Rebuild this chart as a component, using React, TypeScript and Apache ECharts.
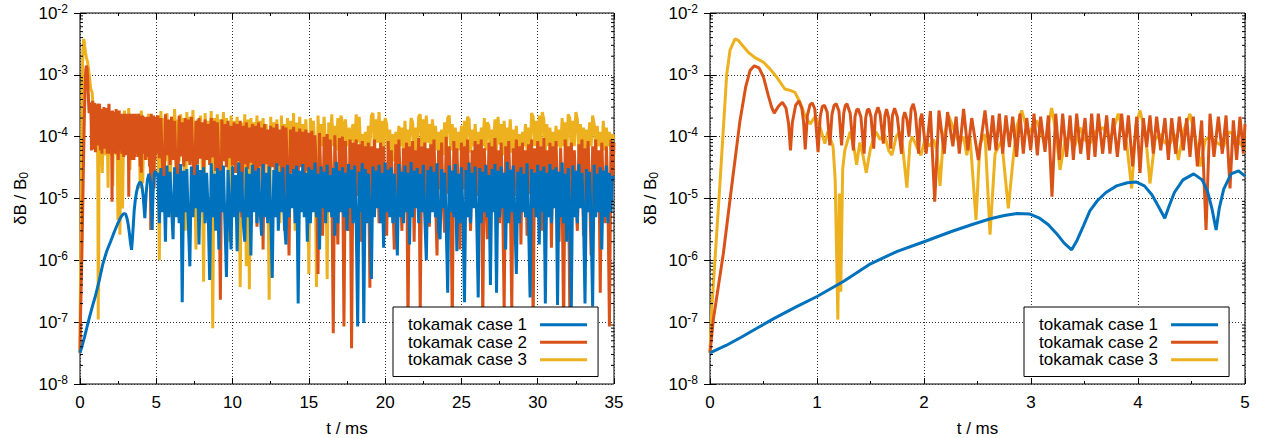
import React, { useEffect, useRef } from 'react';
import * as echarts from 'echarts';

const SERIES_NAMES = ['tokamak case 1', 'tokamak case 2', 'tokamak case 3'];
const SERIES_COLORS = ['#0072bd', '#d95319', '#edb120'];
const LEFT_X_MAX = 35;
const LEFT_X_INTERVAL = 5;
const RIGHT_X_MAX = 5;
const RIGHT_X_INTERVAL = 1;
const Y_MIN = 1e-8;
const Y_MAX = 1e-2;

// 0 - 5 ms, [t (ms), dB/B0]
const case1Early: number[][] = [
  [0, 3.2e-8], [0.15, 4.2e-8], [0.3, 5.8e-8], [0.45, 8.2e-8], [0.6, 1.15e-7], [0.8, 1.75e-7],
  [1.0, 2.6e-7], [1.25, 4.6e-7], [1.5, 8.8e-7], [1.75, 1.4e-6], [2.0, 2.0e-6], [2.25, 2.9e-6],
  [2.45, 3.8e-6], [2.62, 4.7e-6], [2.75, 5.3e-6], [2.87, 5.7e-6], [2.99, 5.6e-6], [3.08, 4.8e-6],
  [3.16, 3.8e-6], [3.24, 2.7e-6], [3.31, 1.9e-6], [3.38, 1.48e-6], [3.43, 2.1e-6], [3.49, 3.6e-6],
  [3.55, 6.3e-6], [3.62, 9.2e-6], [3.7, 1.25e-5], [3.8, 1.6e-5], [3.9, 1.8e-5], [3.98, 1.85e-5],
  [4.06, 1.6e-5], [4.13, 1.15e-5], [4.19, 7.5e-6], [4.25, 4.8e-6], [4.29, 7.5e-6], [4.34, 1.25e-5],
  [4.42, 2.0e-5], [4.52, 2.5e-5], [4.6, 2.0e-5], [4.65, 1.3e-5], [4.69, 7e-6], [4.73, 3.1e-6],
  [4.76, 7e-6], [4.8, 1.4e-5], [4.87, 2.5e-5], [4.94, 2.8e-5], [5.0, 2.3e-5],
];

const case2Early: number[][] = [
  [0, 3.2e-8], [0.031, 1.1e-7], [0.125, 1.3e-6], [0.202, 1.55e-5], [0.28, 1.8e-4], [0.333, 6.3e-4],
  [0.374, 1.17e-3], [0.414, 1.4e-3], [0.458, 1.3e-3], [0.5, 9.2e-4], [0.545, 4.6e-4], [0.576, 3e-4],
  [0.6, 2.4e-4], [0.64, 3.1e-4], [0.676, 3.6e-4], [0.71, 2.9e-4], [0.735, 1.6e-4], [0.752, 6e-5],
  [0.77, 1.7e-4], [0.8, 3.2e-4], [0.83, 3.8e-4], [0.858, 2.9e-4], [0.875, 1.7e-4], [0.89, 6.2e-5],
  [0.91, 2.2e-4], [0.935, 3.3e-4], [0.956, 3.5e-4], [0.98, 2.8e-4], [1.01, 5.6e-5],
  [1.03, 2.1e-4], [1.05, 3.1e-4], [1.07, 3.2e-4], [1.095, 2.5e-4], [1.12, 7.2e-5],
  [1.14, 2.3e-4], [1.16, 3.2e-4], [1.18, 3.4e-4], [1.205, 2.6e-4], [1.23, 7.2e-5],
  [1.25, 2.4e-4], [1.265, 3.2e-4], [1.28, 3.4e-4], [1.31, 2.4e-4], [1.34, 6e-5],
  [1.355, 2.1e-4], [1.37, 2.7e-4], [1.385, 2.8e-4], [1.41, 2.1e-4], [1.44, 5.3e-5],
  [1.455, 2e-4], [1.47, 2.7e-4], [1.485, 2.8e-4], [1.505, 2.1e-4], [1.53, 6.4e-5],
  [1.545, 2.2e-4], [1.57, 3e-4], [1.59, 2.3e-4], [1.62, 7.7e-5],
  [1.635, 2.2e-4], [1.65, 2.8e-4], [1.67, 2e-4], [1.69, 6.4e-5],
  [1.705, 2.2e-4], [1.725, 2.9e-4], [1.75, 2.1e-4], [1.79, 5.3e-5],
  [1.805, 2e-4], [1.82, 2.5e-4], [1.84, 1.9e-4], [1.86, 1e-4],
  [1.88, 2.8e-4], [1.9, 3.4e-4], [1.92, 2.4e-4], [1.95, 5.3e-5],
  [1.965, 1.9e-4], [1.98, 2.35e-4], [2.02, 5.3e-5], [2.06, 2.6e-4], [2.1, 8.9e-6],
  [2.14, 2.65e-4], [2.19, 5.3e-5], [2.22, 2.5e-4], [2.27, 7e-5], [2.3, 2.1e-4], [2.33, 5.3e-5],
  [2.37, 2.8e-4], [2.41, 6e-5],
  [2.446, 2e-4], [2.508, 4.2e-5], [2.57, 2.65e-4], [2.611, 6e-5], [2.642, 2.2e-4], [2.673, 6e-5],
  [2.704, 2.35e-4], [2.735, 5.3e-5], [2.766, 2.2e-4], [2.798, 6.8e-5], [2.829, 2.1e-4], [2.866, 4.7e-5],
  [2.897, 2.35e-4], [2.928, 5.3e-5], [2.96, 2e-4], [2.997, 6e-5], [3.028, 2.35e-4], [3.059, 5e-5],
  [3.09, 2.1e-4], [3.131, 5.7e-5], [3.162, 2.2e-4], [3.196, 1.07e-5], [3.231, 2.35e-4], [3.265, 4.2e-5],
  [3.296, 2.35e-4], [3.333, 4.7e-5], [3.365, 2.2e-4], [3.396, 4.2e-5], [3.427, 2.35e-4], [3.464, 5.3e-5],
  [3.505, 2e-4], [3.536, 4.2e-5], [3.567, 2.35e-4], [3.598, 4.7e-5], [3.629, 2.35e-4], [3.67, 5.3e-5],
  [3.707, 2.2e-4], [3.738, 5.3e-5], [3.77, 2e-4], [3.807, 4.7e-5], [3.847, 2.35e-4], [3.879, 6e-5],
  [3.91, 2.2e-4], [3.95, 3.3e-5], [3.988, 2.1e-4], [4.019, 2.6e-5], [4.05, 2e-4], [4.081, 6.8e-5],
  [4.112, 2.2e-4], [4.143, 5.3e-5], [4.174, 2.1e-4], [4.212, 6e-5], [4.252, 2e-4], [4.284, 4.2e-5],
  [4.315, 2e-4], [4.352, 5.3e-5], [4.386, 2.1e-4], [4.424, 6e-5], [4.455, 2e-4], [4.486, 4.7e-5],
  [4.517, 2.1e-4], [4.555, 3.3e-5], [4.595, 1.83e-4], [4.636, 3.1e-6], [4.673, 2.35e-4], [4.71, 4.7e-5],
  [4.751, 2.1e-4], [4.788, 5.3e-5], [4.823, 2.2e-4], [4.86, 1.45e-5], [4.891, 1.83e-4], [4.922, 4.2e-5],
  [4.953, 2.1e-4], [4.985, 5.3e-5], [5.0, 1.6e-4],
];

const case3Early: number[][] = [
  [0, 3.2e-8], [0.016, 1.6e-7], [0.087, 1.2e-5], [0.156, 1e-3], [0.187, 2.5e-3], [0.234, 3.8e-3],
  [0.265, 3.6e-3], [0.31, 2.9e-3], [0.36, 2.3e-3], [0.42, 1.9e-3], [0.5, 1.6e-3], [0.56, 1.25e-3],
  [0.623, 9.2e-4], [0.7, 5.9e-4], [0.748, 5.6e-4], [0.794, 5.2e-4], [0.841, 3.6e-4], [0.888, 2.2e-4],
  [0.935, 1.6e-4], [0.981, 2.1e-4], [1.03, 1.4e-4], [1.074, 7.7e-5], [1.1, 1.2e-4], [1.15, 7e-5],
  [1.17, 2e-5], [1.195, 1.1e-7], [1.208, 1.2e-5], [1.222, 3.1e-7], [1.24, 3e-5], [1.26, 6e-5],
  [1.31, 1.2e-4], [1.35, 6e-5], [1.37, 3.5e-5], [1.4, 8e-5], [1.43, 5e-5], [1.46, 2.6e-5],
  [1.5, 6.5e-5], [1.55, 1.2e-4], [1.59, 9e-5], [1.63, 1.1e-4], [1.67, 6e-5], [1.7, 5e-5],
  [1.74, 1e-4], [1.77, 1.2e-4], [1.8, 7e-5], [1.84, 1.5e-5], [1.87, 8e-5], [1.89, 1e-4],
  [1.93, 7e-5], [1.97, 5e-5], [2.01, 9e-5], [2.05, 7e-5], [2.09, 9e-5], [2.12, 6e-5],
  [2.15, 1.6e-5], [2.18, 9e-5], [2.23, 2.2e-4], [2.28, 1.3e-4], [2.33, 7.7e-5], [2.37, 1e-4],
  [2.4, 5e-5], [2.43, 1e-4], [2.486, 4.5e-6], [2.523, 7.7e-5], [2.57, 1.1e-4], [2.617, 2.6e-6],
  [2.664, 5.3e-5], [2.726, 8.7e-5], [2.788, 6.9e-6], [2.835, 4.7e-5], [2.87, 1.5e-4], [2.913, 2.65e-4],
  [2.975, 1.1e-4], [3.02, 1.5e-4], [3.053, 1.83e-4], [3.09, 1.2e-4], [3.131, 7.7e-5], [3.193, 2.9e-4],
  [3.23, 1.3e-4], [3.271, 2.9e-5], [3.32, 9e-5], [3.365, 1e-4], [3.41, 7e-5], [3.458, 1.4e-4],
  [3.5, 9e-5], [3.551, 7.7e-5], [3.6, 1.2e-4], [3.676, 1.4e-4], [3.74, 9e-5], [3.816, 2.35e-4],
  [3.86, 1.2e-4], [3.894, 7.7e-5], [3.941, 1.45e-5], [3.98, 1.5e-4], [4.019, 2.65e-4], [4.07, 1.1e-4],
  [4.112, 1.75e-5], [4.16, 9e-5], [4.206, 1.1e-4], [4.25, 8e-5], [4.299, 7.7e-5], [4.34, 1.1e-4],
  [4.377, 4.2e-5], [4.43, 1.3e-4], [4.486, 2.35e-4], [4.53, 1.1e-4], [4.58, 3.3e-5], [4.63, 9e-5],
  [4.673, 1e-4], [4.74, 8e-5], [4.798, 6.8e-5], [4.85, 1.2e-4], [4.891, 1.1e-4], [4.95, 8e-5],
  [5.0, 6e-5],
];

// 5 - 35 ms, sampled every 0.1 ms (first sample at 5.1 ms)
const TAIL_START = 5;
const TAIL_STEP = 0.1;

const case1Tail: number[] = [
  2.6e-5, 4e-6, 3.1e-5, 6e-6, 2.3e-5, 2e-6, 3.4e-5, 5e-6, 2.7e-5, 7e-6,
  2.2e-6, 3.2e-5, 5e-6, 2.5e-5, 4e-6, 3.6e-5, 2.1e-7, 2.8e-5, 6e-6, 3e-5,
  4e-6, 8e-7, 3.3e-5, 5e-6, 2.4e-5, 7e-6, 3.5e-5, 1.8e-6, 2.9e-5, 6e-6,
  3.2e-5, 4e-6, 2.6e-5, 6e-6, 4.8e-7, 3.7e-5, 5e-6, 2.5e-5, 3e-6, 3.1e-5,
  1.5e-6, 2.8e-5, 6e-6, 3.4e-5, 4e-6, 5.4e-7, 2.9e-5, 7e-6, 1.5e-6, 3.3e-5,
  5e-6, 2.4e-5, 1.4e-6, 3.8e-5, 6e-6, 2.7e-5, 4e-6, 2e-6, 3.2e-5, 5e-6,
  2.5e-5, 1.2e-6, 3.5e-5, 6e-6, 2.8e-5, 4e-6, 3.1e-5, 7e-6, 2.5e-6, 3.6e-5,
  5e-6, 2.6e-5, 4e-6, 3.3e-5, 6e-6, 5.2e-7, 2.9e-5, 5e-6, 3.7e-5, 3e-6,
  2.7e-5, 6e-6, 3.2e-5, 4e-6, 1.8e-6, 3.5e-5, 5e-6, 2.5e-5, 7e-6, 3e-5,
  4e-6, 3.4e-5, 2e-7, 2.8e-5, 6e-6, 3.6e-5, 5e-6, 2.6e-5, 2e-6, 3.2e-5,
  4e-6, 2.9e-5, 6e-6, 3.8e-5, 5e-6, 2.5e-5, 1.5e-6, 3.3e-5, 7e-6, 2.7e-5,
  4e-6, 3.5e-5, 6e-6, 2.4e-5, 5e-6, 3.1e-5, 2.5e-6, 3.9e-5, 4e-6, 2.8e-5,
  6e-6, 3.2e-5, 5e-6, 2.6e-5, 3e-6, 3.6e-5, 7e-6, 2.9e-5, 4e-6, 3.4e-5,
  5e-6, 8.5e-8, 2.7e-5, 6e-6, 3.7e-5, 9.7e-8, 3e-5, 4e-6, 2.5e-5, 6e-6,
  5e-7, 3.3e-5, 5e-6, 2.8e-5, 7e-6, 3.5e-5, 4e-6, 2.6e-5, 1.6e-6, 3.8e-5,
  6e-6, 2.9e-5, 5e-6, 3.2e-5, 4e-6, 2.5e-5, 7e-6, 1.2e-6, 3.6e-5, 5e-6,
  2.7e-5, 4e-6, 3.4e-5, 6e-6, 2.6e-5, 1.8e-6, 3.9e-5, 5e-6, 2.8e-5, 7e-6,
  3.1e-5, 4e-6, 2.5e-5, 6e-6, 3.5e-5, 5e-6, 1e-6, 2.9e-5, 4e-6, 3.3e-5,
  6e-6, 2.7e-5, 5e-6, 3.7e-5, 3e-6, 2.2e-6, 3e-5, 7e-6, 2.6e-5, 4e-6,
  3e-7, 3.4e-5, 6e-6, 2.8e-5, 5e-6, 3.6e-5, 1.4e-6, 2.5e-5, 4e-6, 3.2e-5,
  6e-6, 2.1e-7, 2.9e-5, 5e-6, 3.8e-5, 4e-6, 2.6e-5, 7e-6, 3.3e-5, 5e-6,
  2.5e-7, 3.1e-5, 4e-6, 2.7e-5, 6e-6, 3.5e-5, 5e-6, 2.4e-5, 4e-7, 3e-5,
  6e-6, 3.6e-5, 3e-7, 2.8e-5, 5e-6, 3.3e-5, 7e-6, 2.6e-5, 1.5e-6, 3.9e-5,
  4e-6, 2.9e-5, 6e-6, 3.4e-5, 5e-6, 6e-7, 2.7e-5, 4e-6, 3.2e-5, 6e-6,
  2.5e-5, 5e-6, 3.7e-5, 4e-6, 2.5e-7, 3e-5, 7e-6, 2.6e-5, 5e-6, 3.5e-5,
  1.8e-6, 2.8e-5, 6e-6, 3.3e-5, 2e-7, 2.6e-5, 5e-6, 3.6e-5, 4e-6, 2.9e-5,
  7e-6, 3.2e-5, 1.9e-7, 2.7e-5, 5e-6, 3.8e-5, 4e-6, 2.5e-5, 2e-6, 3.1e-5,
  6e-6, 1.7e-7, 3.4e-5, 5e-6, 2.8e-5, 4e-6, 3.6e-5, 7e-6, 2.6e-5, 5e-6,
  2e-7, 3e-5, 6e-6, 2.7e-5, 4e-6, 1.8e-7, 3.5e-5, 5e-6, 2.5e-5, 6e-6,
  3.2e-5, 1.5e-6, 2.8e-5, 5e-6, 3.4e-5, 4e-6, 2.6e-5, 6e-6, 2.3e-5, 2.0e-5,
];

const case2Tail: number[] = [
  2.2e-4, 4.5e-5, 2.0e-4, 3.8e-5, 7.5e-6, 2.3e-4, 5e-5, 1.9e-4, 3.5e-5, 2.1e-4,
  4.2e-5, 1.8e-4, 3e-5, 1e-5, 2.2e-4, 4.8e-5, 1.7e-4, 3.3e-5, 2.0e-4, 4e-5,
  1.9e-4, 3.5e-5, 2.1e-4, 4.5e-5, 8e-6, 1.8e-4, 3.6e-5, 2.0e-4, 4.4e-5, 1.7e-4,
  3e-5, 1.9e-4, 4.2e-5, 1.6e-4, 3.5e-5, 2.0e-4, 4.6e-5, 1.8e-4, 2.8e-5, 1.7e-4,
  3.8e-5, 2.3e-7, 1.9e-4, 4e-5, 1.6e-4, 3.2e-5, 1.8e-4, 4.5e-5, 1.5e-4, 3.4e-5,
  1.7e-4, 2.6e-5, 1.6e-4, 4e-5, 1.8e-4, 5e-6, 1.5e-4, 3.6e-5, 1.7e-4, 3e-5,
  1.4e-4, 3.8e-5, 1.6e-4, 2.5e-5, 1.5e-4, 3.5e-6, 1.7e-4, 3.3e-5, 1.4e-4, 1.5e-6,
  1.6e-4, 3.6e-5, 1.3e-4, 2.8e-5, 1.5e-4, 3.2e-5, 1.4e-4, 2.5e-5, 1.6e-4, 3.4e-5,
  1.3e-4, 2.7e-5, 1.5e-4, 3e-6, 1.4e-4, 3.1e-5, 1.2e-6, 1.3e-4, 2.6e-5, 1.45e-4,
  3e-5, 1.2e-4, 2.4e-5, 1.35e-4, 3.2e-5, 1.2e-4, 2e-5, 1.3e-4, 2.8e-5, 1.15e-4,
  2.2e-5, 1.25e-4, 1.8e-5, 1.05e-4, 2.5e-5, 6e-7, 1.15e-4, 1.6e-5, 2.5e-6, 1.0e-4,
  2e-5, 1.1e-4, 1.4e-5, 9e-5, 2.2e-5, 6.6e-8, 1.05e-4, 1.5e-5, 1.8e-6, 9.5e-5,
  1.8e-5, 1.0e-4, 8.5e-8, 8.5e-5, 1.2e-5, 3e-6, 9e-5, 3.8e-8, 8e-5, 1.5e-5,
  9e-5, 1.1e-5, 7.5e-5, 2e-6, 8.5e-5, 1.4e-5, 7e-5, 9e-6, 8e-5, 3.6e-7,
  7e-5, 1.2e-5, 9e-5, 1.5e-5, 6.5e-5, 4e-6, 8e-5, 1.3e-5, 7e-5, 1e-5,
  2.5e-6, 8.5e-5, 1.4e-5, 6e-5, 1.1e-5, 1.5e-6, 7.5e-5, 1.2e-5, 9e-5, 1.6e-5,
  3e-6, 6.5e-5, 1.3e-5, 8e-5, 9.2e-8, 7e-5, 1.1e-5, 8.5e-5, 2e-6, 6e-5,
  1.5e-5, 9.5e-5, 1.5e-7, 7e-5, 1.2e-5, 8e-5, 1e-5, 6.5e-5, 3.5e-6, 7.5e-5,
  1.3e-5, 9e-5, 1.1e-5, 1.2e-6, 6e-5, 1.4e-5, 8e-5, 9e-6, 2.8e-6, 1.0e-4,
  1.2e-5, 7e-5, 1.5e-5, 1e-7, 8.5e-5, 1.1e-5, 6.5e-5, 1.3e-5, 1.5e-6, 8e-5,
  1.4e-5, 7e-5, 1e-5, 9e-5, 1.2e-5, 3e-6, 6e-5, 1.5e-5, 8.5e-5, 1.1e-5,
  7.5e-5, 1.3e-5, 9e-5, 1e-7, 6.5e-5, 1.2e-5, 2.2e-6, 8e-5, 1.4e-5, 7e-5,
  1e-5, 9.5e-5, 1.3e-5, 6e-5, 4e-6, 8e-5, 1.1e-5, 1.5e-7, 7e-5, 1.5e-5,
  8.5e-5, 1.2e-5, 1.5e-7, 6.5e-5, 1.1e-5, 9e-5, 1.4e-5, 7e-5, 1.8e-6, 8e-5,
  1.3e-5, 6e-5, 2.5e-6, 7.5e-5, 1.2e-5, 9e-5, 9e-8, 6.5e-5, 1.4e-5, 8.5e-5,
  1.1e-5, 7e-5, 3e-6, 9.5e-5, 1.3e-5, 6e-5, 1.2e-5, 8e-5, 1.6e-6, 7e-5,
  1.5e-5, 8.5e-5, 1.1e-5, 2e-6, 6.5e-5, 1.3e-5, 8e-8, 9e-5, 1.2e-5, 7e-5,
  1.5e-7, 8e-5, 1.4e-5, 6e-5, 1.1e-5, 3e-6, 7.5e-5, 1.3e-5, 9e-5, 2.5e-6,
  6.5e-5, 1.2e-5, 8.5e-5, 1.5e-5, 1.2e-6, 7e-5, 1.1e-5, 9e-5, 1.3e-5, 6e-5,
  3e-7, 8e-5, 1.4e-5, 4e-6, 7e-5, 1.2e-5, 8.5e-8, 9e-5, 1.5e-5, 8e-5,
];

const case3Tail: number[] = [
  2.2e-4, 1e-6, 2.6e-4, 5e-5, 2.0e-4, 4e-5, 2.4e-4, 6e-5, 5e-6, 2.1e-4,
  4.5e-5, 2.8e-4, 5.5e-5, 1.9e-4, 4e-5, 2.3e-4, 5e-5, 2.0e-4, 3e-6, 2.5e-4,
  4.8e-5, 2.1e-4, 5e-5, 2.7e-4, 4.2e-5, 1.5e-6, 1.9e-4, 5.5e-5, 2.2e-4, 4.5e-5,
  4.5e-7, 2.4e-4, 5e-5, 1.8e-4, 4e-5, 2.6e-4, 8e-8, 2.0e-4, 5e-5, 2.3e-4,
  4.5e-5, 1.9e-4, 5.5e-5, 2.5e-4, 4e-5, 2.0e-4, 5e-5, 2e-6, 2.2e-4, 4.5e-5,
  1.8e-4, 5e-5, 2.1e-4, 4e-5, 3.7e-7, 1.7e-4, 5e-5, 2.3e-4, 8e-7, 1.9e-4,
  3.4e-7, 2.0e-4, 4.5e-5, 1.7e-4, 5e-5, 2.2e-4, 5e-6, 1.8e-4, 4e-5, 2.0e-4,
  5e-5, 1.6e-4, 4.5e-5, 2.3e-7, 2.1e-4, 5e-5, 1.7e-4, 4e-5, 1.9e-4, 5.5e-5,
  4e-6, 2.2e-4, 4.5e-5, 1.6e-4, 5e-5, 2.0e-4, 4e-5, 1.8e-4, 5e-5, 2.4e-4,
  3e-6, 1.7e-4, 5e-5, 2.1e-4, 4.5e-5, 1.6e-4, 5.5e-5, 1.9e-4, 5e-5, 6e-7,
  2.0e-4, 5e-5, 1.8e-4, 6e-5, 3.7e-7, 2.2e-4, 6e-5, 1.6e-4, 7e-5, 2.1e-4,
  6e-5, 5e-7, 1.7e-4, 5.5e-5, 2.3e-4, 7e-5, 1.5e-4, 6e-5, 2.0e-4, 5e-5,
  2.2e-4, 1.7e-4, 6e-5, 1.9e-4, 7e-5, 1.4e-4, 5e-5, 1.3e-4, 1.6e-4, 6e-5,
  2.3e-4, 8e-5, 2.1e-4, 6.5e-5, 1.1e-4, 5e-5, 1.2e-4, 3e-5, 1.5e-4, 7e-5,
  2.2e-4, 2.4e-4, 6e-5, 1.9e-4, 8e-5, 2.5e-4, 7e-5, 1.8e-4, 5e-5, 2.0e-4,
  1.6e-4, 6e-5, 1.3e-4, 5.5e-5, 1.1e-4, 4e-5, 1.2e-4, 6e-5, 1.5e-4, 7e-5,
  1.4e-4, 5e-5, 1.8e-4, 6e-5, 1.3e-4, 7e-5, 2.0e-4, 1.7e-4, 5.5e-5, 1.4e-4,
  6e-5, 2.1e-4, 2.3e-4, 7e-5, 1.9e-4, 6e-5, 2.2e-4, 8e-5, 1.6e-4, 5e-5,
  1.9e-4, 7e-5, 1.5e-4, 6e-5, 1.2e-4, 4e-5, 1.3e-4, 5e-5, 1.7e-4, 6.5e-5,
  2.0e-4, 2.2e-4, 6e-5, 1.6e-4, 7e-5, 1.4e-4, 5e-5, 1.2e-4, 6e-5, 1.5e-4,
  7e-5, 1.8e-4, 6e-5, 2.1e-4, 1.9e-4, 5.5e-5, 1.3e-4, 7e-5, 1.6e-4, 6e-5,
  1.2e-4, 5e-5, 1.4e-4, 7e-5, 2.0e-4, 6e-5, 1.7e-4, 1.5e-4, 5.5e-5, 1.3e-4,
  7e-5, 1.9e-4, 6e-5, 2.1e-4, 7.5e-5, 1.6e-4, 5e-5, 1.8e-4, 6e-5, 1.4e-4,
  8e-5, 1.9e-4, 5.5e-5, 1.3e-4, 6e-5, 1.5e-4, 4e-5, 1.1e-4, 6e-5, 1.2e-4,
  7e-5, 1.6e-4, 6e-5, 1.4e-4, 5e-5, 2.4e-4, 2.1e-4, 7e-5, 1.8e-4, 6e-5,
  2.2e-4, 7e-5, 2.5e-4, 1.9e-4, 5.5e-5, 1.6e-4, 7e-5, 1.4e-4, 6e-5, 1.2e-4,
  5e-5, 1.5e-4, 7e-5, 1.3e-4, 6e-5, 2.0e-4, 7e-5, 1.7e-4, 5e-5, 2.3e-4,
  2.0e-4, 6e-5, 1.8e-4, 7e-5, 2.5e-4, 1.9e-4, 5.5e-5, 1.6e-4, 7e-5, 1.4e-4,
  6e-5, 1.3e-4, 5e-5, 1.7e-4, 7e-5, 2.2e-4, 1.6e-4, 6e-5, 1.5e-4, 7e-5,
  1.2e-4, 5e-5, 1.8e-4, 6e-5, 1.4e-4, 7e-5, 1.2e-4, 6e-5, 1.1e-4, 9e-5,
];

const EARLY = [case1Early, case2Early, case3Early];
const TAILS = [case1Tail, case2Tail, case3Tail];
const Z_ORDER = [5, 4, 3];

const FONT = '"Liberation Sans", Arial, Helvetica, sans-serif';

function withTail(early: number[][], tail: number[]): number[][] {
  return early.concat(tail.map((v, i) => [TAIL_START + (i + 1) * TAIL_STEP, v]));
}

// minor tick positions of the log axis (2..9 x 10^n)
const Y_MINOR: number[] = [];
for (let e = -8; e < -2; e++) {
  for (let k = 2; k <= 9; k++) Y_MINOR.push(k * Math.pow(10, e));
}

export default function App() {
  const ref = useRef<HTMLDivElement>(null);
  useEffect(() => {
    document.body.style.margin = '0';
    const chart = echarts.init(ref.current as HTMLDivElement, null, { renderer: 'svg' });

    const tickStyle = { color: '#000', width: 1 };
    const gridLine = { show: true, lineStyle: { color: '#333', width: 1, type: [1, 2] } };

    const xMain = (gi: number, max: number, interval: number) => ({
      type: 'value', gridIndex: gi, min: 0, max, interval, position: 'bottom',
      name: 't / ms', nameLocation: 'middle', nameGap: 36,
      nameTextStyle: { fontSize: 17, fontFamily: FONT, color: '#000' },
      axisLine: { show: false },
      axisTick: { show: true, inside: true, length: 6, lineStyle: tickStyle },
      minorTick: { show: true, splitNumber: 2, length: 3, lineStyle: tickStyle },
      axisLabel: { fontSize: 17, fontFamily: FONT, color: '#000', margin: 10 },
      splitLine: gridLine,
      minorSplitLine: { show: false },
    });
    const xTop = (gi: number, max: number, interval: number) => ({
      type: 'value', gridIndex: gi, min: 0, max, interval, position: 'top',
      axisLine: { show: false },
      axisTick: { show: true, inside: true, length: 6, lineStyle: tickStyle },
      minorTick: { show: true, splitNumber: 2, length: 3, lineStyle: tickStyle },
      axisLabel: { show: false },
      splitLine: { show: false },
    });
    const yMain = (gi: number) => ({
      type: 'log', logBase: 10, gridIndex: gi, min: Y_MIN, max: Y_MAX, splitNumber: 6, position: 'left',
      name: '{n|δB / B}{s|0}', nameLocation: 'middle', nameGap: 50, nameRotate: 90,
      nameTextStyle: {
        rich: {
          n: { fontSize: 17, fontFamily: FONT, color: '#000' },
          s: { fontSize: 12, fontFamily: FONT, color: '#000', padding: [8, 0, 0, 0] },
        },
      },
      axisLine: { show: false },
      axisTick: { show: true, inside: true, length: 6, lineStyle: tickStyle },
      axisLabel: {
        margin: 12,
        formatter: (v: number) => `{b|10}{s|${Math.round(Math.log10(v))}}`,
        rich: {
          b: { fontSize: 17, fontFamily: FONT, color: '#000' },
          s: { fontSize: 12, fontFamily: FONT, color: '#000', padding: [0, 0, 9, 0] },
        },
      },
      splitLine: gridLine,
    });
    const yRight = (gi: number) => ({
      type: 'log', logBase: 10, gridIndex: gi, min: Y_MIN, max: Y_MAX, splitNumber: 6, position: 'right',
      axisLine: { show: false },
      axisTick: { show: true, inside: true, length: 6, lineStyle: tickStyle },
      axisLabel: { show: false },
      splitLine: { show: false },
    });

    const minorTickSeries = (axisIndex: number) => ({
      type: 'custom', xAxisIndex: axisIndex, yAxisIndex: axisIndex, silent: true, z: 6, clip: false,
      data: Y_MINOR.map((v) => [0, v]),
      renderItem: (params: any, api: any) => {
        const p = api.coord([api.value(0), api.value(1)]);
        const cs = params.coordSys;
        return {
          type: 'group',
          children: [
            { type: 'line', shape: { x1: cs.x, y1: p[1], x2: cs.x + 3, y2: p[1] }, style: { stroke: '#000', lineWidth: 1 } },
            { type: 'line', shape: { x1: cs.x + cs.width, y1: p[1], x2: cs.x + cs.width - 3, y2: p[1] }, style: { stroke: '#000', lineWidth: 1 } },
          ],
        };
      },
    });

    const lineSeries = (k: number, axisIndex: number, data: number[][]) => ({
      type: 'line', name: SERIES_NAMES[k], xAxisIndex: axisIndex, yAxisIndex: axisIndex,
      data, showSymbol: false, symbol: 'none', silent: true, z: Z_ORDER[k],
      lineStyle: { width: 3, color: SERIES_COLORS[k] },
      itemStyle: { color: SERIES_COLORS[k] },
      emphasis: { disabled: true },
    });

    const legend = (left: number) => ({
      left, top: 307, orient: 'vertical', align: 'right', data: SERIES_NAMES,
      icon: 'rect', itemWidth: 47, itemHeight: 3, itemGap: 0,
      padding: [9, 11, 8, 15], borderColor: '#000', borderWidth: 1, borderRadius: 0,
      backgroundColor: '#fff', selectedMode: false, z: 20,
      textStyle: { fontSize: 17, fontFamily: FONT, color: '#000', lineHeight: 17.5, padding: [0, 8, 0, 0] },
    });

    const option: any = {
      animation: false,
      grid: [
        { left: 80, top: 13, width: 534, height: 371, show: true, borderColor: '#000', borderWidth: 1, backgroundColor: 'transparent', outerBoundsMode: 'none' },
        { left: 710, top: 13, width: 535, height: 371, show: true, borderColor: '#000', borderWidth: 1, backgroundColor: 'transparent', outerBoundsMode: 'none' },
      ],
      xAxis: [xMain(0, LEFT_X_MAX, LEFT_X_INTERVAL), xTop(0, LEFT_X_MAX, LEFT_X_INTERVAL), xMain(1, RIGHT_X_MAX, RIGHT_X_INTERVAL), xTop(1, RIGHT_X_MAX, RIGHT_X_INTERVAL)],
      yAxis: [yMain(0), yRight(0), yMain(1), yRight(1)],
      legend: [legend(393), legend(1024)],
      series: [
        ...[0, 1, 2].map((k) => lineSeries(k, 0, withTail(EARLY[k], TAILS[k]))),
        ...[0, 1, 2].map((k) => lineSeries(k, 2, EARLY[k])),
        minorTickSeries(0),
        minorTickSeries(2),
      ],
    };
    chart.setOption(option);
    return () => chart.dispose();
  }, []);
  return <div ref={ref} style={{ width: 1264, height: 438 }} />;
}
